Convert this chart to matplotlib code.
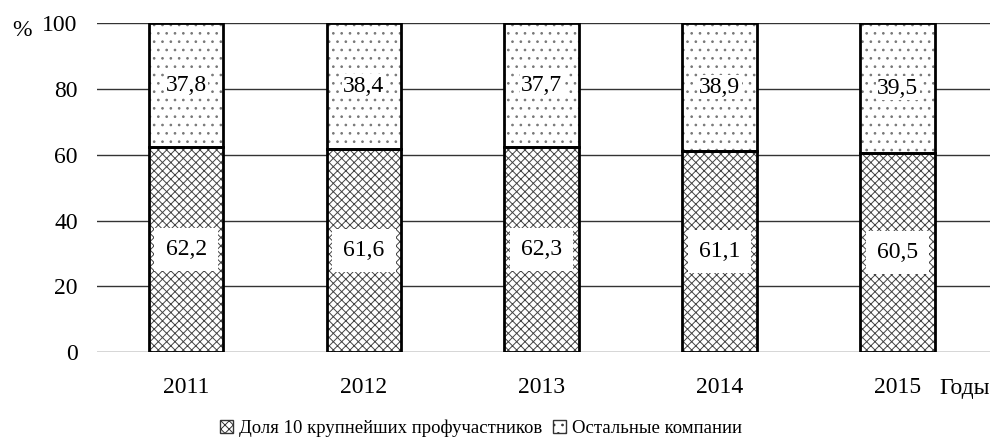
import matplotlib.pyplot as plt
from matplotlib.patches import Patch

plt.rcParams['font.family'] = ['Liberation Serif', 'DejaVu Serif']
plt.rcParams['hatch.linewidth'] = 0.7

years = ['2011', '2012', '2013', '2014', '2015']
top10 = [62.2, 61.6, 62.3, 61.1, 60.5]
others = [37.8, 38.4, 37.7, 38.9, 39.5]
top10_labels = ['62,2', '61,6', '62,3', '61,1', '60,5']
others_labels = ['37,8', '38,4', '37,7', '38,9', '39,5']
legend_names = ['Доля 10 крупнейших профучастников', 'Остальные компании']

fig = plt.figure(figsize=(9.92, 4.43), dpi=100)
ax = fig.add_axes([0.098, 0.205, 0.9, 0.743])

x = list(range(len(years)))
w = 0.42

# hatch fills in grey, outlines drawn separately in black
ax.bar(x, top10, w, color='white', edgecolor='#444444', hatch='xxxx', linewidth=0, zorder=2)
ax.bar(x, others, w, bottom=top10, color='white', edgecolor='#777777', hatch='..', linewidth=0, zorder=2)
ax.bar(x, top10, w, fill=False, edgecolor='black', linewidth=2, zorder=3)
ax.bar(x, others, w, bottom=top10, fill=False, edgecolor='black', linewidth=2, zorder=3)

box = dict(facecolor='white', edgecolor='none', pad=8)
small_box = dict(facecolor='white', edgecolor='none', pad=1)
for i in x:
    ax.text(i, top10[i] / 2, top10_labels[i], ha='center', va='center', fontsize=17, bbox=box, zorder=4)
    ax.text(i, top10[i] + others[i] / 2, others_labels[i], ha='center', va='center', fontsize=17,
            bbox=small_box, zorder=4)

ax.set_ylim(0, 100)
ax.set_xlim(-0.5, 4.52)
ax.set_yticks([0, 20, 40, 60, 80, 100])
ax.set_xticks(x)
ax.set_xticklabels(years)
ax.tick_params(length=0, labelsize=17)
ax.tick_params(axis='y', pad=14)
ax.tick_params(axis='x', pad=18)
ax.yaxis.grid(True, color='#333333', linewidth=1)
ax.set_axisbelow(True)
for s in ax.spines.values():
    s.set_visible(False)

fig.text(0.012, 0.918, '%', fontsize=17)
fig.text(0.947, 0.11, 'Годы', fontsize=17)

handles = [Patch(facecolor='white', edgecolor='#333333', hatch='xxxx', linewidth=1),
           Patch(facecolor='white', edgecolor='#333333', hatch='..', linewidth=1)]
fig.legend(handles, legend_names, loc='lower center', bbox_to_anchor=(0.485, -0.025), ncol=2,
           frameon=False, fontsize=13.5, handlelength=0.7, handleheight=0.7,
           handletextpad=0.3, columnspacing=0.6)

fig.savefig('out.png', dpi=100)
